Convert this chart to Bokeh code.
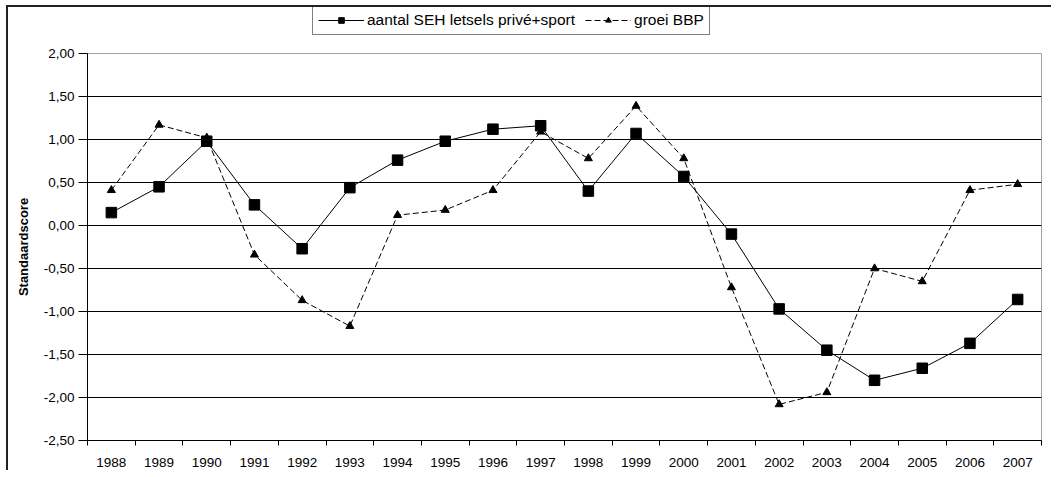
from bokeh.plotting import figure
from bokeh.layouts import column
from bokeh.models import (Range1d, FixedTicker, CustomJSTickFormatter, Legend, LegendItem)
from bokeh.embed import file_html
from bokeh.resources import INLINE

years = ["1988", "1989", "1990", "1991", "1992", "1993", "1994", "1995", "1996", "1997",
         "1998", "1999", "2000", "2001", "2002", "2003", "2004", "2005", "2006", "2007"]
seh = [0.15, 0.45, 0.98, 0.24, -0.27, 0.44, 0.76, 0.98, 1.12, 1.16,
       0.40, 1.07, 0.57, -0.10, -0.97, -1.45, -1.80, -1.66, -1.37, -0.86]
bbp = [0.41, 1.17, 1.02, -0.34, -0.87, -1.17, 0.12, 0.18, 0.41, 1.09,
       0.78, 1.39, 0.78, -0.72, -2.08, -1.94, -0.50, -0.65, 0.41, 0.48]
y_ticks = [-2.5, -2.0, -1.5, -1.0, -0.5, 0.0, 0.5, 1.0, 1.5, 2.0]
series_names = ["aantal SEH letsels privé+sport", "groei BBP"]
y_title = "Standaardscore"

FONT = "Liberation Sans"
n = len(years)
xs = [i + 0.5 for i in range(n)]
TOTAL_W = 79 + 954 + 10

# ---------- main chart ----------
p = figure(output_backend="svg", toolbar_location=None,
           frame_width=954, frame_height=387,
           min_border_left=79, min_border_top=10, min_border_right=10, min_border_bottom=30,
           x_range=Range1d(0, n), y_range=Range1d(y_ticks[0], y_ticks[-1]))

p.background_fill_color = "white"
p.border_fill_color = "white"
p.outline_line_color = "#a0a0a0"
p.outline_line_width = 1

p.xgrid.visible = False
p.ygrid.ticker = FixedTicker(ticks=y_ticks[1:-1])
p.ygrid.grid_line_color = "black"
p.ygrid.grid_line_width = 1

xa = p.xaxis[0]
xa.ticker = FixedTicker(ticks=xs, minor_ticks=list(range(n + 1)))
xa.formatter = CustomJSTickFormatter(args=dict(years=years),
                                     code="return years[Math.floor(tick)];")
xa.major_tick_line_color = None
xa.minor_tick_line_color = "black"
xa.minor_tick_out = 5
xa.minor_tick_in = 0
xa.axis_line_color = "black"
xa.major_label_text_font = FONT
xa.major_label_text_font_size = "13.5px"
xa.major_label_text_color = "black"
xa.major_label_standoff = 11

ya = p.yaxis[0]
ya.ticker = FixedTicker(ticks=y_ticks)
ya.formatter = CustomJSTickFormatter(code="return tick.toFixed(2).replace('.', ',');")
ya.major_tick_line_color = "black"
ya.major_tick_out = 9
ya.major_tick_in = 0
ya.minor_tick_line_color = None
ya.axis_line_color = "black"
ya.major_label_text_font = FONT
ya.major_label_text_font_size = "13.5px"
ya.major_label_text_color = "black"
ya.major_label_standoff = 4
ya.axis_label = y_title
ya.axis_label_text_font = FONT
ya.axis_label_text_font_size = "13px"
ya.axis_label_text_font_style = "bold"
ya.axis_label_text_color = "black"
ya.axis_label_standoff = 10

p.line(xs, seh, line_color="black", line_width=1)
p.scatter(xs, seh, marker="square", size=10.5, fill_color="black", line_color="black")
p.line(xs, bbp, line_color="black", line_width=1, line_dash="6 3")
p.scatter(xs, bbp, marker="triangle", size=8, fill_color="black", line_color="black")

# ---------- legend strip above the chart ----------
lf = figure(output_backend="svg", toolbar_location=None,
            frame_width=TOTAL_W, frame_height=36,
            min_border_left=0, min_border_right=0, min_border_top=0, min_border_bottom=0,
            x_range=Range1d(1000, 1001), y_range=Range1d(1000, 1001))
lf.axis.visible = False
lf.grid.visible = False
lf.outline_line_color = None
lf.background_fill_color = "white"
lf.border_fill_color = "white"

dl1 = lf.line(xs, seh, line_color="black", line_width=1)
ds1 = lf.scatter(xs, seh, marker="square", size=10, fill_color="black", line_color="black")
dl2 = lf.line(xs, bbp, line_color="black", line_width=1, line_dash="6 3")
ds2 = lf.scatter(xs, bbp, marker="triangle", size=8, fill_color="black", line_color="black")

legend = Legend(items=[LegendItem(label=series_names[0], renderers=[dl1, ds1]),
                       LegendItem(label=series_names[1], renderers=[dl2, ds2])],
                orientation="horizontal", location=(304, 8))
legend.label_text_font = FONT
legend.label_text_font_size = "15.5px"
legend.label_text_color = "black"
legend.border_line_color = "black"
legend.border_line_width = 1
legend.background_fill_color = "white"
legend.background_fill_alpha = 1
legend.glyph_width = 46
legend.glyph_height = 14
legend.label_height = 14
legend.label_standoff = 3
legend.spacing = 10
legend.padding = 5
legend.margin = 0
lf.add_layout(legend, "center")

layout = column(lf, p, spacing=0)
layout.styles = {"margin-left": "6px", "margin-top": "5px",
                 "border-left": "2px solid #222222", "border-top": "2px solid #222222"}

open("out.html", "w").write(file_html(layout, INLINE))
